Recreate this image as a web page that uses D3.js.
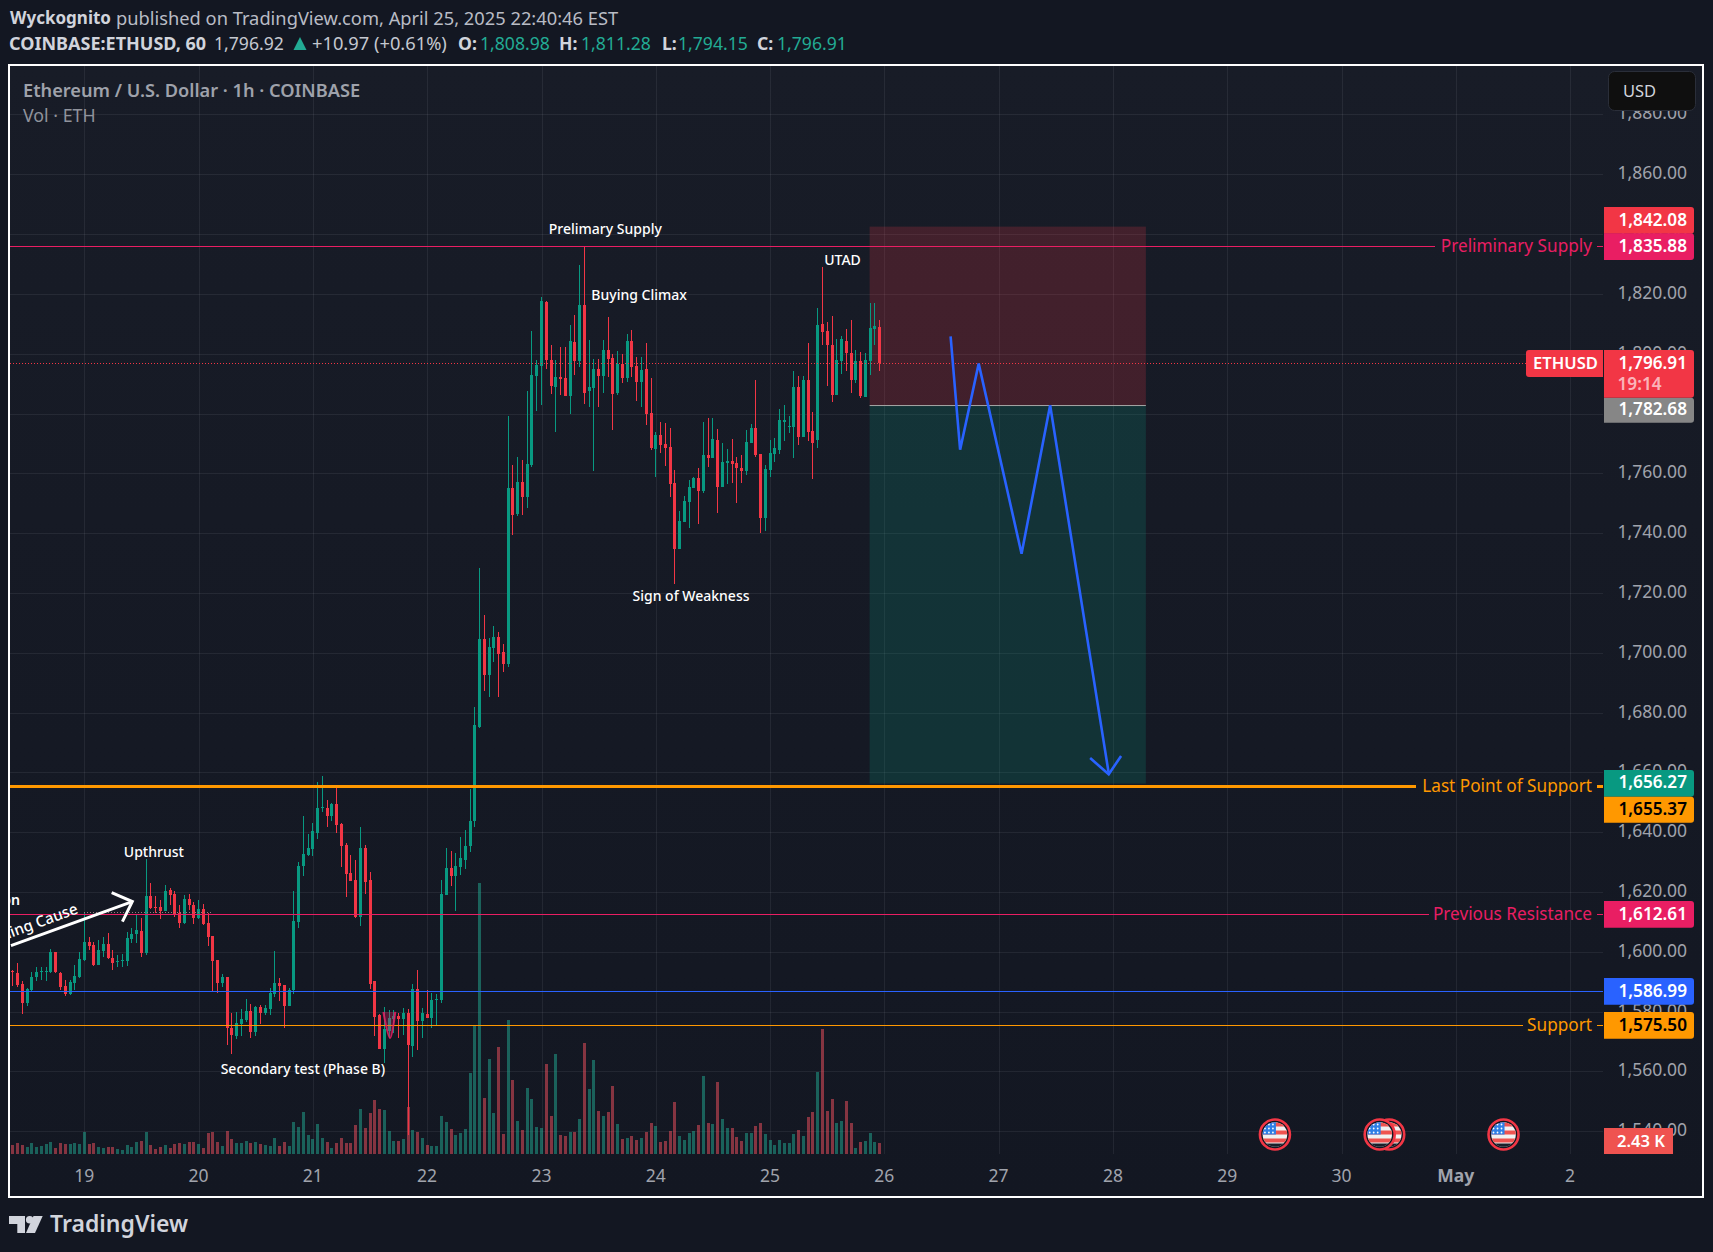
<!DOCTYPE html>
<html><head><meta charset="utf-8">
<script src="https://cdn.jsdelivr.net/npm/d3@7"></script>
<style>html,body{margin:0;padding:0;background:#131722;overflow:hidden}svg{display:block}text{font-family:"Noto Sans",sans-serif}</style>
</head><body><svg id="c" width="1713" height="1252"></svg>
<script>
const firstHour=-15; // hours after 19 Apr 00:00 for the first candle
const opens=[1593.7,1592.9,1589.3,1582.8,1587.3,1591.7,1593.2,1593.2,1593.3,1600.0,
1592.9,1588.6,1585.9,1589.7,1591.7,1597.3,1603.3,1602.3,1595.6,1600.4,
1602.7,1598.0,1596.5,1596.8,1597.0,1604.2,1606.0,1607.0,1599.5,1618.7,
1615.0,1615.0,1613.7,1620.7,1619.4,1612.9,1609.7,1617.7,1615.7,1611.4,
1614.4,1609.7,1605.3,1597.3,1589.6,1591.6,1574.6,1571.9,1575.9,1577.2,
1580.3,1573.2,1581.6,1579.6,1580.9,1585.9,1589.6,1588.9,1581.9,1587.3,
1610.0,1628.7,1632.4,1634.4,1639.8,1648.0,1648.1,1645.5,1649.5,1642.8,
1635.8,1626.4,1624.1,1611.7,1634.8,1624.1,1590.3,1578.9,1567.5,1573.6,
1577.6,1578.6,1577.6,1579.6,1568.6,1587.6,1576.9,1579.3,1577.9,1583.9,
1583.9,1619.0,1628.1,1625.4,1628.4,1630.8,1635.4,1643.8,1675.3,1704.7,
1692.6,1701.7,1705.3,1700.3,1696.3,1755.2,1746.5,1757.2,1752.2,1762.9,
1792.6,1796.0,1817.4,1798.0,1788.9,1792.3,1792.0,1785.9,1804.0,1797.6,
1816.4,1787.6,1788.6,1795.0,1792.6,1801.3,1798.6,1786.9,1796.6,1792.0,
1804.3,1796.0,1790.6,1795.0,1780.3,1768.2,1772.9,1769.9,1768.9,1756.8,
1734.8,1743.8,1750.5,1755.2,1758.5,1754.2,1766.2,1765.2,1771.2,1755.5,
1763.5,1764.2,1763.5,1761.9,1760.9,1770.2,1775.2,1766.5,1745.1,1761.2,
1766.5,1767.9,1777.2,1775.6,1775.6,1788.9,1772.2,1791.3,1774.2,1771.2,
1810.0,1807.7,1803.0,1786.3,1797.6,1804.3,1800.3,1791.3,1797.6,1785.6,
1797.6,1808.3,1808.98];
const highs=[1594.0,1596.2,1590.3,1587.8,1593.4,1594.9,1594.9,1594.9,1601.0,1600.0,
1593.4,1590.6,1590.6,1595.6,1599.9,1612.9,1605.1,1603.4,1604.0,1605.1,
1606.2,1600.7,1599.0,1599.3,1606.8,1607.9,1612.4,1611.2,1631.0,1623.0,
1618.7,1617.4,1622.4,1621.4,1620.2,1615.7,1619.0,1619.4,1616.8,1617.4,
1615.9,1612.9,1605.3,1597.3,1592.6,1591.7,1579.5,1580.0,1580.9,1584.3,
1582.5,1582.0,1582.3,1582.3,1587.8,1600.3,1591.2,1588.9,1587.8,1620.4,
1630.0,1645.5,1639.5,1643.0,1656.8,1658.8,1650.8,1649.7,1655.1,1643.0,
1636.3,1632.4,1630.8,1641.7,1635.8,1626.6,1590.3,1579.3,1581.5,1580.6,
1580.6,1579.5,1581.1,1580.9,1589.3,1594.0,1581.1,1587.3,1586.2,1585.9,
1624.1,1634.7,1633.8,1633.0,1638.3,1640.8,1654.5,1681.9,1728.4,1712.7,
1705.0,1709.0,1707.0,1703.0,1779.2,1762.9,1765.5,1764.5,1787.6,1807.7,
1798.0,1819.0,1817.6,1803.0,1798.0,1802.3,1802.3,1809.7,1813.0,1829.7,
1835.88,1804.7,1798.3,1798.3,1804.7,1812.4,1800.0,1801.0,1800.0,1806.7,
1808.0,1799.0,1799.0,1803.7,1792.0,1773.9,1777.2,1776.9,1775.2,1761.2,
1747.5,1752.3,1757.8,1758.8,1761.9,1777.2,1778.6,1778.6,1774.9,1770.2,
1768.2,1771.6,1765.5,1766.2,1774.6,1776.6,1791.3,1766.5,1762.9,1771.2,
1771.9,1781.6,1782.9,1779.2,1794.3,1792.6,1792.4,1803.7,1780.6,1815.3,
1829.1,1810.6,1812.7,1805.0,1806.0,1808.3,1811.4,1801.3,1800.7,1800.3,
1817.0,1817.0,1811.28];
const lows=[1588.6,1588.4,1579.3,1582.0,1586.7,1590.1,1590.6,1590.4,1592.9,1592.9,
1587.3,1585.4,1585.6,1587.3,1591.2,1596.8,1600.7,1595.3,1595.5,1598.4,
1597.6,1594.0,1594.9,1594.9,1595.3,1602.9,1602.9,1598.4,1599.0,1614.3,
1612.9,1611.1,1613.5,1615.7,1611.8,1608.1,1609.4,1614.0,1609.4,1610.9,
1609.0,1602.0,1586.7,1586.4,1588.4,1568.9,1565.9,1570.9,1571.7,1576.7,
1571.1,1571.7,1575.9,1578.9,1578.9,1585.0,1583.6,1574.7,1581.9,1585.9,
1608.1,1625.2,1632.1,1631.9,1637.8,1646.6,1641.9,1643.7,1639.9,1628.5,
1618.2,1623.7,1611.2,1608.8,1619.4,1587.5,1571.7,1567.5,1563.0,1571.1,
1572.8,1571.1,1572.2,1538.8,1565.0,1567.2,1571.1,1577.8,1574.5,1575.2,
1583.0,1619.0,1622.1,1613.5,1625.7,1627.7,1633.5,1641.9,1675.0,1687.3,
1685.3,1697.0,1685.3,1693.6,1695.3,1739.5,1745.8,1746.1,1748.5,1762.2,
1780.9,1782.9,1795.0,1786.6,1773.9,1786.3,1785.9,1779.9,1793.0,1795.6,
1783.3,1782.3,1760.9,1782.3,1786.9,1792.3,1774.6,1786.3,1790.3,1790.6,
1792.3,1784.3,1782.3,1776.2,1767.9,1758.8,1766.9,1762.5,1752.2,1723.1,
1734.8,1743.8,1741.8,1755.2,1743.1,1753.5,1762.2,1765.2,1746.8,1755.5,
1756.5,1756.8,1750.2,1756.8,1759.5,1770.2,1765.5,1740.1,1740.8,1758.8,
1763.9,1766.5,1770.9,1773.5,1765.2,1769.5,1772.2,1770.7,1758.2,1768.4,
1803.0,1789.3,1783.9,1786.3,1793.3,1794.3,1786.9,1790.3,1785.3,1785.6,
1793.0,1803.0,1794.15];
const closes=[1593.3,1588.9,1583.0,1587.6,1591.5,1593.3,1593.6,1593.6,1600.0,1593.3,
1588.2,1585.9,1589.8,1592.0,1597.6,1603.3,1602.1,1595.6,1600.7,1602.7,
1598.0,1596.4,1597.0,1597.3,1604.7,1606.0,1607.3,1599.5,1618.7,1614.6,
1614.7,1613.7,1620.4,1619.0,1612.6,1609.7,1617.7,1615.7,1611.4,1614.4,
1609.4,1605.0,1597.0,1589.6,1591.6,1574.6,1572.2,1576.2,1577.6,1580.3,
1573.2,1581.6,1579.6,1581.3,1586.3,1589.6,1588.6,1581.9,1587.3,1610.4,
1628.7,1632.8,1634.8,1640.5,1648.1,1648.4,1645.5,1649.5,1642.5,1635.4,
1626.1,1623.7,1611.7,1634.8,1623.4,1589.3,1578.2,1567.5,1574.2,1577.9,
1578.6,1577.6,1579.6,1568.9,1587.6,1576.9,1579.6,1577.9,1583.9,1584.3,
1619.4,1628.1,1625.4,1628.7,1631.4,1635.4,1643.8,1675.9,1704.7,1692.6,
1702.0,1705.3,1699.6,1696.3,1755.2,1746.1,1757.2,1752.2,1763.2,1793.0,
1796.3,1817.7,1798.0,1789.3,1792.3,1791.6,1785.9,1804.3,1797.6,1816.4,
1786.9,1788.9,1795.0,1792.6,1801.3,1798.3,1786.6,1796.6,1792.0,1804.3,
1795.6,1790.6,1794.6,1779.9,1768.5,1772.9,1769.5,1768.5,1756.5,1734.8,
1744.1,1750.8,1755.5,1758.5,1754.2,1766.2,1765.2,1771.6,1755.5,1763.9,
1764.2,1763.2,1761.9,1760.9,1770.5,1775.2,1766.2,1745.1,1761.5,1766.9,
1768.5,1777.9,1777.9,1775.9,1788.9,1772.2,1791.3,1773.7,1770.2,1809.7,
1807.3,1803.0,1786.3,1798.0,1805.0,1800.3,1791.3,1797.6,1785.9,1798.0,
1808.7,1809.3,1796.91];
const volumes=[1.99,2.43,1.99,1.47,2.43,1.55,1.77,2.21,2.65,1.32,
2.43,2.21,2.21,2.43,2.21,4.86,2.21,2.43,1.55,1.32,
1.55,1.55,1.10,0.88,1.99,1.55,2.65,2.87,4.86,1.99,
1.10,1.55,1.99,1.32,2.21,2.43,2.21,2.65,2.65,2.21,
1.32,4.64,4.86,2.65,1.77,5.08,3.31,2.43,2.43,2.87,
2.43,2.65,2.21,1.99,1.77,3.53,1.77,2.65,1.77,7.07,
5.96,9.27,4.20,3.31,6.62,3.53,2.65,1.32,2.43,3.53,
2.43,2.43,6.40,9.94,5.74,9.05,11.92,9.94,9.72,5.08,
2.87,2.87,3.31,10.38,5.30,4.86,3.53,1.99,1.77,1.77,
8.39,7.07,5.52,4.20,4.64,5.52,17.88,28.26,59.84,12.36,
20.98,9.05,23.63,4.42,29.59,16.34,7.29,5.30,14.57,12.14,
5.96,5.74,19.87,8.39,22.08,4.20,3.97,4.86,4.86,7.73,
24.51,14.35,20.76,9.49,8.39,9.27,15.01,6.62,3.31,3.53,
3.97,3.09,3.53,4.86,6.84,6.18,2.65,2.87,5.08,11.48,
3.97,3.09,4.64,5.08,6.40,17.22,6.84,6.62,15.90,7.73,
5.74,5.74,3.75,2.87,4.64,4.64,6.18,6.84,4.42,3.09,
1.99,3.09,2.43,2.43,4.42,5.30,3.97,8.17,9.27,18.11,
27.60,9.49,12.14,6.84,7.29,11.70,6.84,1.32,2.65,2.87,
4.64,2.65,2.43];
const priceTicks=[1880,1860,1840,1820,1800,1780,1760,1740,1720,1700,1680,1660,1640,1620,1600,1580,1560,1540];
const dayHours=[0,24,48,72,96,120,144,168,192,216,240,264,288,312];
const dayLabels=["19","20","21","22","23","24","25","26","27","28","29","30","May","2"];
const levelNames=["Preliminary Supply","Last Point of Support","Previous Resistance","","Support"];
const levelPrices=[1835.88,1655.37,1612.61,1586.99,1575.50];
const levelColors=["#e91e63","#ff9800","#e91e63","#2962ff","#ff9800"];
const levelWidths=[1,3,1,1,1];
const levelLabelStart=[1442,1423,1436,1603,1530];
const noteTexts=["Prelimary Supply","UTAD","Buying Climax","Sign of Weakness","Upthrust","Secondary test (Phase B)"];
const noteHours=[109.4,159.2,116.5,127.4,14.6,45.9];
const notePrices=[1841.8,1831.3,1819.7,1718.8,1633.5,1560.7];
const riskPrices=[1842.5,1782.68,1656.27];
const riskHours=[164.9,222.9];
const forecastHours=[181.9,183.9,187.8,196.8,202.8,215.1];
const forecastPrices=[1805.8,1767.9,1796.7,1733.1,1782.8,1659.7];
const forecastHeadHours=[211.2,215.1,217.7];
const forecastHeadPrices=[1664.8,1659.4,1665.5];
const eventHours=[250,274,272,298];
const squiggleHours=[62.8,64.2,65.3];
const squigglePrices=[1579.9,1571.2,1579.9];
const arrowHours=[-15.4,10.08];
const arrowPrices=[1602.1,1616.8];
const arrowHeadHours=[5.75,10.08,8.0];
const arrowHeadPrices=[1619.8,1616.8,1610.1];
const faintHours=[0,27];
const faintPrice=1613.1;

const lastPrice=1796.91;
const candles=opens.map((o,i)=>({h:firstHour+i,o,hi:highs[i],lo:lows[i],c:closes[i],v:volumes[i]}));
const UP="#089981",DOWN="#f23645";
const paneL=10,paneR=1603,paneT=66,paneB=1154;
const FS=17.5;
const x=d3.scaleLinear().domain([0,168]).range([84.3,884.4]);
const y=d3.scaleLinear().domain([1540,1860]).range([1131.3,174.3]);
const yVol=d3.scaleLinear().domain([0,59.84]).range([1154,883]);

const svg=d3.select("#c");
const defs=svg.append("defs");
const g0=defs.append("linearGradient").attr("id","bg").attr("x1",0).attr("x2",0).attr("y1",0).attr("y2",1);
g0.append("stop").attr("offset",0).attr("stop-color","#181c27");
g0.append("stop").attr("offset",1).attr("stop-color","#131722");
defs.append("clipPath").attr("id","pane").append("rect").attr("x",paneL).attr("y",paneT).attr("width",paneR-paneL).attr("height",paneB-paneT);

svg.append("rect").attr("width",1713).attr("height",1252).attr("fill","#131722");
svg.append("rect").attr("x",9).attr("y",65).attr("width",1694).attr("height",1132).attr("fill","url(#bg)");

// grid
const grid=svg.append("g").attr("shape-rendering","crispEdges").attr("stroke","#f0f3fa").attr("stroke-opacity",.07);
grid.selectAll("h").data(priceTicks).join("line").attr("x1",paneL).attr("x2",paneR).attr("y1",d=>Math.round(y(d))+.5).attr("y2",d=>Math.round(y(d))+.5);
grid.selectAll("v").data(dayHours).join("line").attr("y1",paneT).attr("y2",paneB).attr("x1",d=>Math.round(x(d))+.5).attr("x2",d=>Math.round(x(d))+.5);

// axes
const priceAxis=d3.axisLeft(y).tickValues(priceTicks).tickFormat(d3.format(",.2f")).tickSize(0).tickPadding(0);
const ga=svg.append("g").attr("transform","translate(1687,-1.7)").call(priceAxis);
ga.select(".domain").remove();
ga.selectAll("text").attr("font-size",FS).attr("fill","#a0a3ac").attr("font-family",'"Noto Sans",sans-serif').attr("dy",".35em");
const timeAxis=d3.axisBottom(x).tickValues(dayHours).tickFormat((d,i)=>dayLabels[i]).tickSize(0).tickPadding(0);
const gt=svg.append("g").attr("transform","translate(-0.6,1175.5)").call(timeAxis);
gt.select(".domain").remove();
gt.selectAll("text").attr("font-size",FS).attr("fill","#a0a3ac").attr("font-family",'"Noto Sans",sans-serif').attr("y",0).attr("dy",".35em").attr("font-weight",(d,i)=>dayLabels[i]==="May"?700:400);

const pane=svg.append("g").attr("clip-path","url(#pane)");

// position tool
const rr=pane.append("g");
rr.append("rect").attr("x",x(riskHours[0])).attr("width",x(riskHours[1])-x(riskHours[0])).attr("y",y(riskPrices[0])).attr("height",y(riskPrices[1])-y(riskPrices[0])).attr("fill","#f23645").attr("fill-opacity",.2);
rr.append("rect").attr("x",x(riskHours[0])).attr("width",x(riskHours[1])-x(riskHours[0])).attr("y",y(riskPrices[1])).attr("height",y(riskPrices[2])-y(riskPrices[1])).attr("fill","#089981").attr("fill-opacity",.2);
rr.append("line").attr("x1",x(riskHours[0])).attr("x2",x(riskHours[1])).attr("y1",y(riskPrices[1])).attr("y2",y(riskPrices[1])).attr("stroke","#a6a6a6").attr("stroke-width",1);

// volume
const bars=pane.append("g").attr("shape-rendering","crispEdges");
bars.selectAll("rect").data(candles).join("rect")
 .attr("x",d=>Math.round(x(d.h)-1.5)).attr("width",3)
 .attr("y",d=>yVol(d.v)).attr("height",d=>yVol(0)-yVol(d.v))
 .attr("fill",d=>d.c>=d.o?"#22ab94":"#f7525f").attr("fill-opacity",.5);

// candles
const cg=pane.append("g").attr("shape-rendering","crispEdges");
cg.selectAll("line").data(candles).join("line")
 .attr("x1",d=>Math.round(x(d.h)-1.5)+1.5).attr("x2",d=>Math.round(x(d.h)-1.5)+1.5)
 .attr("y1",d=>y(d.hi)).attr("y2",d=>y(d.lo))
 .attr("stroke",d=>d.c>=d.o?UP:DOWN).attr("stroke-width",1);
cg.selectAll("rect").data(candles).join("rect")
 .attr("x",d=>Math.round(x(d.h)-1.5)).attr("width",3)
 .attr("y",d=>y(Math.max(d.o,d.c))).attr("height",d=>Math.max(1,Math.abs(y(d.o)-y(d.c))))
 .attr("fill",d=>d.c>=d.o?UP:DOWN);

// last-price dotted line
const yLast=Math.round(y(lastPrice))+.5;
pane.append("line").attr("x1",paneL).attr("x2",1526).attr("y1",yLast).attr("y2",yLast)
 .attr("stroke","#f23645").attr("stroke-width",1).attr("stroke-dasharray","1 2").attr("shape-rendering","crispEdges");

// faint dotted line above Previous Resistance
pane.append("line").attr("x1",x(faintHours[0])).attr("x2",x(faintHours[1])).attr("y1",y(faintPrice)).attr("y2",y(faintPrice))
 .attr("stroke","#9a7a80").attr("stroke-width",1).attr("stroke-dasharray","1 2").attr("shape-rendering","crispEdges");

// horizontal levels + names
levelPrices.forEach((p,i)=>{
 const c=levelColors[i],w=levelWidths[i],yy=Math.round(y(p))+(w%2?.5:0);
 const xEnd=levelNames[i]?levelLabelStart[i]-7:paneR;
 pane.append("line").attr("x1",paneL).attr("x2",xEnd).attr("y1",yy).attr("y2",yy).attr("stroke",c).attr("stroke-width",w);
 if(levelNames[i]){
  pane.append("line").attr("x1",1597).attr("x2",paneR).attr("y1",yy).attr("y2",yy).attr("stroke",c).attr("stroke-width",w);
  svg.append("text").attr("x",1592).attr("y",y(p)).attr("dy",".35em").attr("text-anchor","end").attr("fill",c).attr("font-size",17.2).text(levelNames[i]);
 }
});

// squiggle
const sq=d3.line().curve(d3.curveCatmullRom).x((d,i)=>x(squiggleHours[i])).y(d=>y(d));
pane.append("path").attr("d",sq(squigglePrices)).attr("fill","#e91e63").attr("fill-opacity",.3).attr("stroke","#e91e63").attr("stroke-width",2).attr("stroke-opacity",.85);

// annotations
noteTexts.forEach((t,i)=>{
 pane.append("text").attr("x",x(noteHours[i])).attr("y",y(notePrices[i])).attr("dy",".35em").attr("text-anchor","middle").attr("fill","#fff").attr("font-size",14).attr("font-weight",500).text(t);
});
// white arrow with partially hidden text
const lineXY=d3.line().x(d=>x(d[0])).y(d=>y(d[1]));
pane.append("path").attr("d",lineXY(arrowHours.map((h,i)=>[h,arrowPrices[i]]))).attr("fill","none").attr("stroke","#fff").attr("stroke-width",3);
pane.append("path").attr("d",lineXY(arrowHeadHours.map((h,i)=>[h,arrowHeadPrices[i]]))).attr("fill","none").attr("stroke","#fff").attr("stroke-width",3);
pane.append("text").attr("x",20).attr("y",900).attr("dy",".35em").attr("text-anchor","end").attr("fill","#fff").attr("font-size",14.2).attr("font-weight",600).text("Accumulation");
pane.append("text").attr("transform","translate(79,913) rotate(-20)").attr("text-anchor","end").attr("fill","#fff").attr("font-size",15.2).attr("font-weight",500).text("Building Cause");

// blue forecast
pane.append("path").attr("d",lineXY(forecastHours.map((h,i)=>[h,forecastPrices[i]]))).attr("fill","none").attr("stroke","#2962ff").attr("stroke-width",2.6).attr("stroke-linejoin","miter");
pane.append("path").attr("d",lineXY(forecastHeadHours.map((h,i)=>[h,forecastHeadPrices[i]]))).attr("fill","none").attr("stroke","#2962ff").attr("stroke-width",2.6);

// event flags
const flagY=1134.5;
eventHours.forEach((h,i)=>{
 const cx=x(h),id="f"+i;
 const f=svg.append("g").attr("transform",`translate(${cx},${flagY})`);
 defs.append("clipPath").attr("id",id).append("circle").attr("r",12.3);
 f.append("circle").attr("r",15).attr("fill","#131722").attr("stroke","#f23645").attr("stroke-width",2.6);
 const ff=f.append("g").attr("clip-path",`url(#${id})`);
 ff.append("rect").attr("x",-13).attr("y",-13).attr("width",26).attr("height",26).attr("fill","#f1f1f1");
 [-12,-4,4].forEach(s=>ff.append("rect").attr("x",-13).attr("y",s).attr("width",26).attr("height",4).attr("fill","#ef5350"));
 ff.append("rect").attr("x",-13).attr("y",-13).attr("width",14).attr("height",13).attr("fill","#2f7fe6");
 [-10,-6,-2].forEach(dy=>[-10,-6,-2].forEach(dx=>ff.append("circle").attr("cx",dx).attr("cy",dy).attr("r",.9).attr("fill","#fff")));
 ff.append("rect").attr("x",-13).attr("y",9).attr("width",26).attr("height",5).attr("fill","#1b1f2a");
});

// price labels (top edge, height, value text, fill, text colour)
const tagValues=["1,842.08","1,835.88","1,782.68","1,656.27","1,655.37","1,612.61","1,586.99","1,575.50"];
const tagTops=[207,233.3,397.7,770,796.7,901,978,1012];
const tagHeights=[26.7,26.7,25,26.7,26,26.7,26.7,26.7];
const tagTextMid=[219.7,245.7,409,782.4,808.7,913.7,990.7,1024.7];
const tagFills=["#f23645","#e91e63","#868686","#089981","#ff9800","#e91e63","#2962ff","#ff9800"];
const tagInk=["#fff","#fff","#fff","#fff","#000","#fff","#fff","#000"];
function tag(top,h,fill){svg.append("path").attr("d",`M1604,${top}h87a3,3 0 0 1 3,3v${h-6}a3,3 0 0 1 -3,3h-87z`).attr("fill",fill);}
tagValues.forEach((v,i)=>{
 tag(tagTops[i],tagHeights[i],tagFills[i]);
 svg.append("text").attr("x",1687).attr("y",tagTextMid[i]).attr("dy",".35em").attr("text-anchor","end").attr("fill",tagInk[i]).attr("font-size",17.2).attr("font-weight",600).text(v);
});
tag(350,47.7,"#f23645");
svg.append("text").attr("x",1687).attr("y",363.2).attr("dy",".35em").attr("text-anchor","end").attr("fill","#fff").attr("font-size",17.2).attr("font-weight",600).text("1,796.91");
svg.append("text").attr("x",1617.5).attr("y",383.6).attr("dy",".35em").attr("fill","#fff").attr("fill-opacity",.65).attr("font-size",17.2).attr("font-weight",600).text("19:14");
svg.append("path").attr("d","M1603,350h-74a3,3 0 0 0 -3,3v21a3,3 0 0 0 3,3h74z").attr("fill","#f23645");
svg.append("text").attr("x",1533).attr("y",363.3).attr("dy",".35em").attr("fill","#fff").attr("font-size",16.6).attr("font-weight",600).text("ETHUSD");
svg.append("rect").attr("x",1604).attr("y",1128).attr("width",69).attr("height",26).attr("fill","#ef5350");
svg.append("text").attr("x",1617).attr("y",1141).attr("dy",".35em").attr("fill","#fff").attr("font-size",16.6).attr("font-weight",600).text("2.43 K");

// USD button
svg.append("rect").attr("x",1608.5).attr("y",71.5).attr("width",87).attr("height",39).attr("rx",6).attr("fill","#0f0f0f").attr("stroke","#2a2e39");
svg.append("text").attr("x",1623).attr("y",91).attr("dy",".35em").attr("fill","#d1d4dc").attr("font-size",16.5).text("USD");

// frame
svg.append("rect").attr("x",9).attr("y",65).attr("width",1694).attr("height",1132).attr("fill","none").attr("stroke","#fff").attr("stroke-width",2);

// title texts
svg.append("text").attr("x",23).attr("y",90.7).attr("dy",".35em").attr("fill","#9fa2ab").attr("font-size",18.2).attr("font-weight",600).text("Ethereum / U.S. Dollar · 1h · COINBASE");
svg.append("text").attr("x",23).attr("y",116).attr("dy",".35em").attr("fill","#90939c").attr("font-size",17.8).text("Vol · ETH");

// header
svg.append("text").attr("x",10).attr("y",18.4).attr("dy",".35em").attr("fill","#d1d4dc").attr("font-size",17).attr("font-weight",700).text("Wyckognito");
svg.append("text").attr("x",116).attr("y",18.4).attr("dy",".35em").attr("fill","#b9bcc5").attr("font-size",18.3).text("published on TradingView.com, April 25, 2025 22:40:46 EST");
const hdrParts=[["COINBASE:ETHUSD, 60",9,"#d1d4dc",700,18],["1,796.92",214,"#c5c8d0",400,17.6],["+10.97 (+0.61%)",312,"#c5c8d0",400,18.3],
["O:",458,"#d1d4dc",700,17.6],["1,808.98",480,"#22ab94",400,17.6],["H:",559,"#d1d4dc",700,17.6],["1,811.28",581,"#22ab94",400,17.6],
["L:",662,"#d1d4dc",700,17.6],["1,794.15",678,"#22ab94",400,17.6],["C:",757,"#d1d4dc",700,17.6],["1,796.91",777,"#22ab94",400,17.6]];
hdrParts.forEach(p=>svg.append("text").attr("x",p[1]).attr("y",43.7).attr("dy",".35em").attr("fill",p[2]).attr("font-size",p[4]).attr("font-weight",p[3]).text(p[0]));
svg.append("path").attr("d","M293.5,50l6.5,-13l6.5,13z").attr("fill","#22ab94");

// TradingView logo
const lg=svg.append("g").attr("fill","#d1d4dc");
lg.append("path").attr("d","M9,1216H25V1233H17.3V1224H9Z");
lg.append("circle").attr("cx",29.7).attr("cy",1219.8).attr("r",3.8);
lg.append("path").attr("d","M33.5,1216H42.7L35,1233H26Z");
lg.append("text").attr("x",50).attr("y",1224).attr("dy",".35em").attr("font-family","Inter,sans-serif").attr("font-weight",600).attr("font-size",23).text("TradingView");
</script></body></html>
